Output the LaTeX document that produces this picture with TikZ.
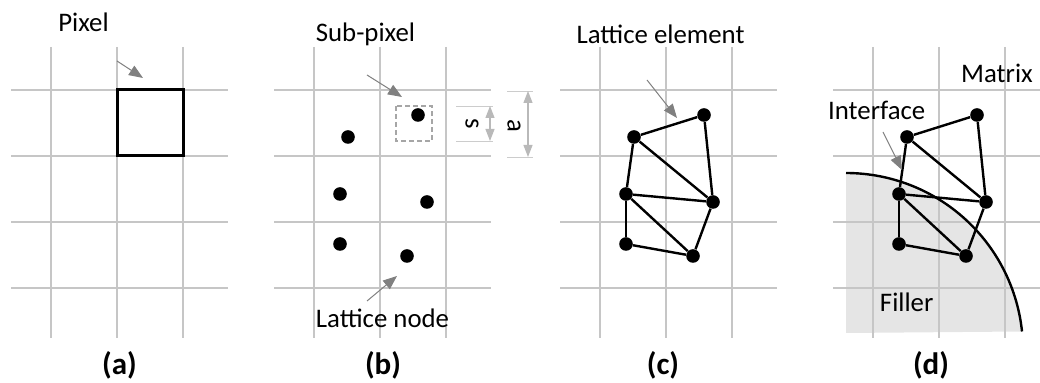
\documentclass[tikz,border=0pt]{standalone}
\usepackage{fontspec}
\setmainfont{Carlito}
\usetikzlibrary{arrows.meta}
\tikzset{
  gridline/.style={gray!45, line width=1pt},
  latnode/.style={circle, fill=black, inner sep=0pt, minimum size=6.8pt},
  elem/.style={line width=1.2pt},
  pointer/.style={gray, line width=0.5pt, -{Triangle[length=7pt,width=5.5pt]}},
  dimline/.style={gray!55, line width=0.6pt, {Triangle[length=6pt,width=4.5pt]}-{Triangle[length=6pt,width=4.5pt]}},
  extline/.style={gray!40, line width=0.4pt},
  lbl/.style={font=\fontsize{13.4}{15}\selectfont, anchor=base},
  panelcap/.style={font=\fontsize{15.5}{18}\selectfont\bfseries},
}

\begin{document}
\begin{tikzpicture}[x=0.5pt, y=-0.5pt]
\useasboundingbox (0,0) rectangle (1040,383);
\clip (0,0) rectangle (1040,383);

% filler region of (d)
\fill[gray!20] (846,333) -- plot[domain=90:6, samples=60, smooth] ({846+177*cos(\x)}, {350-177*sin(\x)}) -- cycle;

% pixel grids
\foreach \v in {51,314,600,873}{
  \foreach \k in {0,1,2} \draw[gridline] (\v+66*\k,47) -- (\v+66*\k,338);
  \foreach \h in {90,156,222,288} \draw[gridline] (\v-40,\h) -- (\v+177,\h);
}

% interface
\draw[line width=1.2pt] plot[domain=90:6, samples=60, smooth] ({846+177*cos(\x)}, {350-177*sin(\x)});

% (a)
\draw[line width=1.5pt] (117,90) rectangle (183,156);
\node[lbl] (pixel) at (83.5,31.5) {Pixel};
\coordinate (pixfrom) at (117,61);
\coordinate (pixto) at (143,78);
\draw[pointer] (pixfrom) -- (pixto);

% (b)
\draw[gray!70, line width=0.7pt, dash pattern=on 2.5pt off 1.5pt] (396,106) rectangle (432,141);
\node[lbl] (subpixel) at (365.5,42) {Sub-pixel};
\node[lbl] (latnodelbl) at (382.5,327.3) {Lattice node};
\coordinate (subfrom) at (367,75);
\coordinate (subto) at (402,97);
\coordinate (nodefrom) at (367,301);
\coordinate (nodeto) at (397,276);
\draw[pointer] (subfrom) -- (subto);
\draw[pointer] (nodefrom) -- (nodeto);

% sizes s and a
\draw[extline] (456,106) -- (493,106);
\draw[extline] (456,141) -- (493,141);
\draw[extline] (507,91) -- (533,91);
\draw[extline] (507,157) -- (533,157);
\coordinate (stop) at (490,106);
\coordinate (sbot) at (490,141);
\coordinate (atop) at (528,91);
\coordinate (abot) at (528,157);
\draw[dimline] (stop) -- (sbot);
\draw[dimline] (atop) -- (abot);
\node[font=\fontsize{13.4}{15}\selectfont, rotate=-90] (slbl) at (472,124) {s};
\node[font=\fontsize{13.4}{15}\selectfont, rotate=-90] (albl) at (514,126) {a};

% lattice nodes
\foreach \p/\v in {b/314,c/600,d/873}{
  \node[latnode] (\p1) at (\v+104,115) {};
  \node[latnode] (\p2) at (\v+34,137) {};
  \node[latnode] (\p3) at (\v+26,194) {};
  \node[latnode] (\p4) at (\v+113,202) {};
  \node[latnode] (\p5) at (\v+26,244) {};
  \node[latnode] (\p6) at (\v+93,256) {};
}

% lattice elements
\foreach \p in {c,d}{
  \foreach \a/\b in {1/2,2/3,3/5,5/6,6/4,4/1,2/4,3/4,3/6}
    \draw[elem] (\p\a) -- (\p\b);
}

% (c)
\node[lbl] (element) at (660.5,43.3) {Lattice element};
\coordinate (elemfrom) at (647,80);
\coordinate (elemto) at (677,118);
\draw[pointer] (elemfrom) -- (elemto);

% (d)
\node[lbl] (matrix) at (997,82.3) {Matrix};
\node[lbl] (interface) at (876.7,120) {Interface};
\node[lbl] (filler) at (906.7,311.7) {Filler};
\coordinate (intfrom) at (883,132);
\coordinate (intto) at (902,170);
\draw[pointer] (intfrom) -- (intto);

% captions
\node[panelcap] (capa) at (119.5,365) {(a)};
\node[panelcap] (capb) at (383,365) {(b)};
\node[panelcap] (capc) at (663,365) {(c)};
\node[panelcap] (capd) at (931,365) {(d)};
\end{tikzpicture}
\end{document}
